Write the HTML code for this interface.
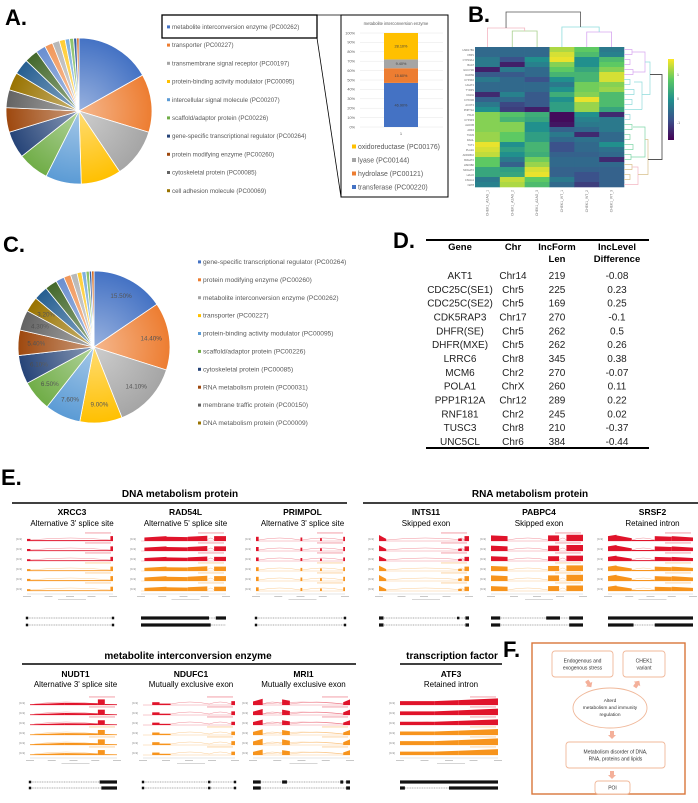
<!DOCTYPE html>
<html>
<head>
<meta charset="utf-8">
<style>
html,body{margin:0;padding:0;background:#fff;}
svg{display:block;font-family:"Liberation Sans","DejaVu Sans",sans-serif;}
</style>
</head>
<body>
<svg id="fig" width="698" height="803" viewBox="0 0 698 803" xmlns="http://www.w3.org/2000/svg">
<defs>
<radialGradient id="shine" cx="0.5" cy="0.5" r="0.5">
<stop offset="0" stop-color="#fff" stop-opacity="0.45"/>
<stop offset="1" stop-color="#fff" stop-opacity="0"/>
</radialGradient>
<linearGradient id="viridisBar" x1="0" y1="1" x2="0" y2="0">
<stop offset="0" stop-color="#440154"/><stop offset="0.25" stop-color="#3b528b"/>
<stop offset="0.5" stop-color="#21908d"/><stop offset="0.75" stop-color="#5dc963"/>
<stop offset="1" stop-color="#fde725"/>
</linearGradient>
</defs>
</svg>
<script>
// ---------- DATA ----------
const pieAValues=[17,13,11,9,8,7,6,5.5,4,4,3.5,3,2.2,1.8,1.6,1.3,1.0,0.9,0.7,0.5];
const pieColors=['#4472C4','#ED7D31','#A5A5A5','#FFC000','#5B9BD5','#70AD47','#264478','#9E480E','#636363','#997300','#255E91','#43682B','#698ED0','#F1975A','#B7B7B7','#FFCD33','#7CAFDD','#8CC168','#335AA1','#D26012'];
const legendA=['metabolite interconversion enzyme (PC00262)','transporter (PC00227)','transmembrane signal receptor (PC00197)','protein-binding activity modulator (PC00095)','intercellular signal molecule (PC00207)','scaffold/adaptor protein (PC00226)','gene-specific transcriptional regulator (PC00264)','protein modifying enzyme (PC00260)','cytoskeletal protein (PC00085)','cell adhesion molecule (PC00069)'];
const insetCats=['transferase (PC00220)','hydrolase (PC00121)','lyase (PC00144)','oxidoreductase (PC00176)'];
const insetVals=[46.9,15.6,9.4,28.1];
const insetColors=['#4472C4','#ED7D31','#A5A5A5','#FFC000'];
const insetTicks=[0,10,20,30,40,50,60,70,80,90,100];
const pieCValues=[15.5,14.4,14.1,9.0,7.6,6.5,6.1,5.4,4.3,3.2,3.0,2.6,1.8,1.5,1.4,1.0,0.9,0.7,0.5,0.5];
const legendC=['gene-specific transcriptional regulator (PC00264)','protein modifying enzyme (PC00260)','metabolite interconversion enzyme (PC00262)','transporter (PC00227)','protein-binding activity modulator (PC00095)','scaffold/adaptor protein (PC00226)','cytoskeletal protein (PC00085)','RNA metabolism protein (PC00031)','membrane traffic protein (PC00150)','DNA metabolism protein (PC00009)'];
const heatGenes=['HSD17B1','FBP1','CYP19A1','BAAT','GUCY2D','DHRS9','CYP4F2','HGAT4','TYRP1','DGKH','CYP2A5','ACOT4','PNPT1A','PKLR','CYP4F3','ALDOB','ARF4','TGM3','DAGL','TUT1','PLA2A','AKR1B10','B3GAT2','HSD3B2','MOGAT2','HAAO','CSGG1','NAT8'];
const heatSamples=['CHEK1_A2AG_1','CHEK1_A2AG_2','CHEK1_A2AG_3','CHEK1_WT_1','CHEK1_WT_2','CHEK1_WT_3'];
const heatValues=[
[-0.5,-0.5,-0.5,1.2,0.8,-0.3],[-0.5,-0.5,-0.5,1.4,0.6,-0.2],[-0.3,-0.8,0.0,1.5,0.0,0.6],[-0.3,-1.3,-0.2,1.0,0.0,0.8],
[-1.3,-0.3,-0.5,0.8,0.3,1.0],[-0.7,-0.7,-0.5,0.5,0.5,1.4],[-0.3,-0.5,-0.8,0.0,0.5,1.4],[-0.5,-0.5,-0.5,-0.3,0.9,1.0],
[-0.5,-0.5,-0.5,0.0,0.9,1.1],[-1.2,-0.2,-0.7,0.4,1.0,0.6],[-0.6,-0.5,-0.7,0.0,1.5,0.6],[-0.3,-0.9,-0.7,0.2,1.1,0.6],
[0.0,-1.0,-1.3,0.2,1.1,0.3],[1.0,0.7,0.4,-1.5,0.0,-1.2],[1.0,0.5,0.3,-1.5,-0.2,-0.3],[1.0,1.0,0.0,-1.4,-0.3,-0.3],
[1.0,1.0,0.0,-0.6,-0.5,-0.3],[1.1,0.8,0.2,-0.3,-1.2,-0.5],[1.1,0.8,0.2,-0.5,-0.4,-0.5],[1.5,0.0,0.5,-0.8,-0.5,0.0],
[1.4,0.2,0.5,-0.8,-0.5,-0.4],[1.3,0.0,0.4,-0.6,-0.6,-0.5],[0.8,-0.3,0.9,-0.5,-0.5,-1.2],[0.8,-0.6,1.1,-0.5,-0.5,-0.5],
[0.3,0.2,1.4,-0.6,-0.6,-0.6],[0.3,0.3,1.5,-0.6,-0.8,-0.6],[-0.3,1.3,0.8,-0.3,-0.8,-0.6],[-0.2,1.2,0.6,-0.5,-1.0,-0.6]];
const tableGenes=['AKT1','CDC25C(SE1)','CDC25C(SE2)','CDK5RAP3','DHFR(SE)','DHFR(MXE)','LRRC6','MCM6','POLA1','PPP1R12A','RNF181','TUSC3','UNC5CL'];
const tableChr=['Chr14','Chr5','Chr5','Chr17','Chr5','Chr5','Chr8','Chr2','ChrX','Chr12','Chr2','Chr8','Chr6'];
const tableLen=['219','225','169','270','262','262','345','270','260','289','245','210','384'];
const tableDiff=['-0.08','0.23','0.25','-0.1','0.5','0.26','0.38','-0.07','0.11','0.22','0.02','-0.37','-0.44'];

// ---------- HELPERS ----------
const NS='http://www.w3.org/2000/svg';
const svg=document.getElementById('fig');
function mk(tag,attrs,parent){const e=document.createElementNS(NS,tag);for(const k in attrs)e.setAttribute(k,attrs[k]);(parent||svg).appendChild(e);return e;}
function txt(x,y,s,attrs,parent){const e=mk('text',Object.assign({x:x,y:y},attrs),parent);e.textContent=s;return e;}
function grp(name){const g=mk('g',{});return g;}
function label(x,y,s,name){const t=txt(x,y,s,{'font-size':22,'font-weight':'bold',fill:'#000'});return t;}

function drawPie(g,cx,cy,r,vals,cols,labels){
  const tot=vals.reduce((a,b)=>a+b,0);let a=-Math.PI/2;
  vals.forEach((v,i)=>{
    const da=v/tot*2*Math.PI;const a2=a+da;
    const p=mk('path',{d:`M${cx},${cy}L${cx+r*Math.cos(a)},${cy+r*Math.sin(a)}A${r},${r} 0 ${da>Math.PI?1:0} 1 ${cx+r*Math.cos(a2)},${cy+r*Math.sin(a2)}Z`,fill:cols[i%cols.length],stroke:'#fff','stroke-width':0.8},g);
    
    
    if(labels&&i<10){const m=a+da/2;const t=txt(cx+r*0.76*Math.cos(m),cy+r*0.76*Math.sin(m)+2,v.toFixed(2)+'%',{'font-size':6.3,fill:'#404040','text-anchor':'middle'},g);
      
      }
    a=a2;
  });
  mk('circle',{cx:cx,cy:cy,r:r,fill:'url(#shine)'},g);
}
function legend(g,x,y0,step,items,cols,fs){
  items.forEach((s,i)=>{
    const m=mk('rect',{x:x,y:y0+step*i-3.6,width:3,height:3,fill:cols[i]},g);
    
    
    const t=txt(x+5,y0+step*i,s,{'font-size':fs,fill:'#595959'},g);
    
    
  });
}

// ---------- PANEL A ----------
label(5,25,'A.','panel-a-label');
const gA=grp('panel-a-pie');
drawPie(gA,79,111,73,pieAValues,pieColors,false);
const gAL=grp('panel-a-legend');
legend(gAL,167,29,18.2,legendA,pieColors,6.2);
const hb=mk('rect',{x:162,y:15,width:155,height:23,fill:'none',stroke:'#000','stroke-width':1.3},gAL);


mk('line',{x1:317,y1:15,x2:341,y2:15,stroke:'#000','stroke-width':0.8},gAL);
mk('line',{x1:317,y1:38,x2:341,y2:197,stroke:'#000','stroke-width':0.8},gAL);
// inset
const gI=grp('inset-bar-chart');
mk('rect',{x:341,y:15,width:107,height:182,fill:'#fff',stroke:'#000','stroke-width':1},gI);
txt(396,25,'metabolite interconversion enzyme',{'font-size':4.2,fill:'#595959','text-anchor':'middle'},gI);
const iy=v=>127-v*0.94;
insetTicks.forEach(t=>{
  mk('line',{x1:360,x2:443,y1:iy(t),y2:iy(t),stroke:'#e6e6e6','stroke-width':0.5},gI);
  const tl=txt(355,iy(t)+1.3,t+'%',{'font-size':3.8,fill:'#595959','text-anchor':'end'},gI);
  
  
});
let acc=0;
insetVals.forEach((v,i)=>{
  const b=mk('rect',{x:384,y:iy(acc+v),width:34,height:v*0.94,fill:insetColors[i]},gI);
  
  
  txt(401,iy(acc+v/2)+1.3,v.toFixed(2)+'%',{'font-size':3.8,fill:'#404040','text-anchor':'middle'},gI);
  acc+=v;
});
txt(401,135,'1',{'font-size':4,fill:'#595959','text-anchor':'middle'},gI);
[3,2,1,0].forEach((ci,k)=>{
  const y=149+k*13.5;
  mk('rect',{x:352,y:y-4.5,width:4,height:4,fill:insetColors[ci]},gI);
  const t=txt(358,y,insetCats[ci],{'font-size':6.9,fill:'#595959'},gI);
  
  
});

// ---------- PANEL B ----------
label(468,22,'B.','panel-b-label');
const gB=grp('heatmap');
function viridis(v){
  const st=[[68,1,84],[59,82,139],[33,144,141],[93,201,99],[253,231,37]];
  let t=(v+1.6)/3.2;t=Math.max(0,Math.min(1,t));const s=t*4;const i=Math.min(3,Math.floor(s));const f=s-i;
  const c=st[i].map((c0,k)=>Math.round(c0+(st[i+1][k]-c0)*f));return `rgb(${c[0]},${c[1]},${c[2]})`;
}
const hx0=475,hx1=624,hy0=47,hy1=187;
const cw=(hx1-hx0)/heatSamples.length,rh=(hy1-hy0)/heatGenes.length;
heatValues.forEach((row,r)=>{row.forEach((v,c)=>{
  const cell=mk('rect',{x:hx0+c*cw,y:hy0+r*rh,width:cw+0.3,height:rh+0.3,fill:viridis(v)},gB);
  
  
});});
heatGenes.forEach((g,r)=>{txt(hx0-1,hy0+r*rh+rh*0.75,g,{'font-size':2.6,fill:'#666','text-anchor':'end'},gB);});
heatSamples.forEach((s,c)=>{const x=hx0+c*cw+cw/2+1;txt(x,190,s,{'font-size':3.4,fill:'#777','text-anchor':'end',transform:`rotate(-90 ${x} 190)`},gB);});
const gD=grp('dendrogram');
const cx=c=>hx0+c*cw+cw/2;
function br(x1,x2,y,yl,yr,col){mk('path',{d:`M${x1},${yl}V${y}H${x2}V${yr}`,fill:'none',stroke:col,'stroke-width':0.8},gD);}
br(cx(1),cx(2),31,hy0,hy0,'#a8d08d');
br(cx(0),(cx(1)+cx(2))/2,28,hy0,31,'#f4b6c2');
br(cx(4),cx(5),32,hy0,hy0,'#d7a6f0');
br(cx(3),(cx(4)+cx(5))/2,27,hy0,32,'#8fdcdc');
br((cx(0)+cx(1.5))/2,(cx(3)+cx(4.5))/2,12,28,27,'#555');
function rb(y1,y2,x,col,xl,xr){mk('path',{d:`M${xl||hx1},${y1}H${x}V${y2}H${xr||hx1}`,fill:'none',stroke:col,'stroke-width':0.7},gD);}
const ry=r=>hy0+r*rh+rh/2;
[[0,1,632,'#d7a6f0'],[2,3,630,'#d7a6f0'],[4,5,633,'#d7a6f0'],[6,7,630,'#8fdcdc'],[8,9,634,'#8fdcdc'],[10,11,632,'#8fdcdc'],[13,14,630,'#8fdcdc'],[15,16,632,'#7fd6a8'],[17,18,630,'#7fd6a8'],[19,20,633,'#7fd6a8'],[21,22,631,'#7fd6a8'],[23,24,632,'#d8c08a'],[25,26,630,'#d8c08a']].forEach(b=>rb(ry(b[0]),ry(b[1]),b[2],b[3]));
mk('path',{d:`M${hx1},${ry(12)}H642`,stroke:'#8fdcdc','stroke-width':0.7,fill:'none'},gD);
mk('path',{d:`M632,${ry(0.5)}H645V${ry(4.5)}H633`,stroke:'#d7a6f0','stroke-width':0.7,fill:'none'},gD);
mk('path',{d:`M634,${ry(6.5)}H642V${ry(12)}`,stroke:'#8fdcdc','stroke-width':0.7,fill:'none'},gD);
mk('path',{d:`M645,${ry(2.5)}H650V${ry(9)}H642`,stroke:'#8fdcdc','stroke-width':0.7,fill:'none'},gD);
mk('path',{d:`M633,${ry(15.5)}H645V${ry(21.5)}H631`,stroke:'#7fd6a8','stroke-width':0.7,fill:'none'},gD);
mk('path',{d:`M632,${ry(23.5)}H638V${ry(27)}H${hx1}`,stroke:'#f4b6c2','stroke-width':0.7,fill:'none'},gD);
mk('path',{d:`M645,${ry(18)}H648V${ry(25)}H638`,stroke:'#d8c08a','stroke-width':0.7,fill:'none'},gD);
mk('path',{d:`M650,${ry(5)}H662V${ry(22)}H648`,stroke:'#555','stroke-width':0.9,fill:'none'},gD);
const gCB=grp('colorbar');
mk('rect',{x:668,y:59,width:6,height:81,fill:'url(#viridisBar)'},gCB);
[['1',76],['0',100],['-1',124]].forEach(t=>txt(677,t[1],t[0],{'font-size':3.5,fill:'#666'},gCB));

// ---------- PANEL C ----------
label(3,252,'C.','panel-c-label');
const gC=grp('panel-c-pie');
drawPie(gC,94,347,76,pieCValues,pieColors,true);
const gCL=grp('panel-c-legend');
legend(gCL,198,264,17.9,legendC,pieColors,6.6);

// ---------- PANEL D ----------
label(393,248,'D.','panel-d-label');
const gT=grp('splicing-table');
mk('line',{x1:426,x2:649,y1:240,y2:240,stroke:'#000','stroke-width':2},gT);
mk('line',{x1:426,x2:649,y1:448,y2:448,stroke:'#000','stroke-width':2},gT);
const colX=[460,513,557,617];
[['Gene',''],['Chr',''],['IncForm','Len'],['IncLevel','Difference']].forEach((h,i)=>{
  const t=txt(colX[i],250,h[0],{'font-size':9.5,'font-weight':'bold','text-anchor':'middle'},gT);
  
  
  if(h[1])txt(colX[i],262,h[1],{'font-size':9.5,'font-weight':'bold','text-anchor':'middle'},gT);
});
tableGenes.forEach((g,r)=>{
  const y=279+r*13.83;
  [g,tableChr[r],tableLen[r],tableDiff[r]].forEach((v,i)=>{
    const t=txt(colX[i],y,v,{'font-size':10,'text-anchor':'middle',fill:'#222'},gT);
    
    
  });
});

// ---------- PANEL E ----------
label(1,485,'E.','panel-e-label');
const headers=[['DNA metabolism protein',180,497,12,347,503],['RNA metabolism protein',530,497,363,698,503],['metabolite interconversion enzyme',188,659,22,356,664],['transcription factor',452,659,400,502,664]];
headers.forEach(h=>{
  const g=grp('group-header');
  txt(h[1],h[2],h[0],{'font-size':10,'font-weight':'bold','text-anchor':'middle'},g);
  mk('line',{x1:h[3],x2:h[4],y1:h[5],y2:h[5],stroke:'#000','stroke-width':1.5},g);
});
const ePanels=[
 {n:'XRCC3',s:"Alternative 3' splice site",x0:27,x1:113,row:0,prof:[[0,0.04,0.3,0.3],[0.04,0.97,0.12,0.12],[0.97,1,0.7,0.7]],arcs:[[0.04,0.97]],m1:{t:[],d:[0,1]},m2:{t:[],d:[0,1]}},
 {n:'RAD54L',s:"Alternative 5' splice site",x0:141,x1:226,row:0,prof:[[0.04,0.3,0.5,0.7],[0.3,0.55,0.6,0.55],[0.55,0.78,0.6,0.75],[0.86,1,0.7,0.7]],arcs:[[0.78,0.86]],m1:{t:[[0,0.8],[0.88,1]],d:[]},m2:{t:[[0,0.82]],d:[]}},
 {n:'PRIMPOL',s:"Alternative 3' splice site",x0:256,x1:345,row:0,prof:[[0,0.03,0.6,0.6],[0.5,0.52,0.5,0.5],[0.72,0.74,0.4,0.4],[0.98,1,0.6,0.6]],arcs:[[0.03,0.5],[0.52,0.98]],m1:{t:[],d:[0,1]},m2:{t:[],d:[0,1]}},
 {n:'INTS11',s:'Skipped exon',x0:379,x1:469,row:0,prof:[[0,0.08,0.85,0.3],[0.88,0.92,0.35,0.35],[0.95,1,0.7,0.7]],arcs:[[0.08,0.95],[0.88,0.95]],m1:{t:[[0,0.05],[0.96,1]],d:[0.88]},m2:{t:[[0,0.05],[0.96,1]],d:[]}},
 {n:'PABPC4',s:'Skipped exon',x0:491,x1:583,row:0,prof:[[0,0.18,0.8,0.7],[0.62,0.74,0.8,0.8],[0.82,1,0.9,0.9]],arcs:[[0.18,0.62],[0.74,0.82]],m1:{t:[[0,0.1],[0.6,0.75],[0.85,1]],d:[]},m2:{t:[[0,0.1],[0.85,1]],d:[]}},
 {n:'SRSF2',s:'Retained intron',x0:608,x1:693,row:0,prof:[[0,0.1,0.7,0.9],[0.1,0.28,0.8,0.4],[0.28,0.55,0.15,0.15],[0.55,0.75,0.7,0.6],[0.75,1,0.7,0.5]],arcs:[[0.28,0.55]],m1:{t:[[0,1]],d:[]},m2:{t:[[0,0.3],[0.55,1]],d:[]}},
 {n:'NUDT1',s:"Alternative 3' splice site",x0:30,x1:117,row:1,prof:[[0,0.4,0.1,0.3],[0.4,0.78,0.3,0.25],[0.78,0.86,0.8,0.8],[0.86,1,0.15,0.1]],arcs:[[0.05,0.78]],m1:{t:[[0.8,1]],d:[0]},m2:{t:[[0.82,1]],d:[0]}},
 {n:'NDUFC1',s:'Mutually exclusive exon',x0:143,x1:235,row:1,prof:[[0.1,0.18,0.4,0.4],[0.18,0.3,0.2,0.2],[0.96,1,0.55,0.55]],arcs:[[0.3,0.72],[0.72,0.96]],m1:{t:[],d:[0,0.72,1]},m2:{t:[],d:[0,0.72,1]}},
 {n:'MRI1',s:'Mutually exclusive exon',x0:253,x1:350,row:1,prof:[[0,0.1,0.5,0.9],[0.3,0.38,0.8,0.6],[0.93,1,0.4,0.8]],arcs:[[0.1,0.3],[0.38,0.93],[0.1,0.93]],m1:{t:[[0,0.08],[0.3,0.35],[0.9,0.93],[0.96,1]],d:[]},m2:{t:[[0,0.08],[0.96,1]],d:[]}},
 {n:'ATF3',s:'Retained intron',x0:400,x1:498,row:1,prof:[[0,0.35,0.55,0.55],[0.35,0.6,0.55,0.7],[0.6,1,0.7,0.95]],arcs:[[0.05,0.5]],m1:{t:[[0,1]],d:[]},m2:{t:[[0,0.05],[0.5,1]],d:[]}}
];
const trackMult=[1,0.95,0.85,0.9,1,0.88];
const rowGeo=[{name:515,sub:526,top:533,m:[618,625]},{name:677,sub:687,top:697,m:[782,788]}];
ePanels.forEach(p=>{
  const g=grp('sashimi-'+p.n.toLowerCase());
  const R=rowGeo[p.row];const w=p.x1-p.x0;const cxp=(p.x0+p.x1)/2+2;
  txt(cxp,R.name,p.n,{'font-size':8.5,'font-weight':'bold','text-anchor':'middle'},g);
  txt(cxp,R.sub,p.s,{'font-size':8,'text-anchor':'middle'},g);
  for(let i=0;i<6;i++){
    const col=i<3?'#e0142b':'#f7941d';const base=R.top+i*10+8;const h=7*trackMult[i];
    txt(p.x0-11,base-1,'[0-9]',{'font-size':3,fill:'#888'},g);
    mk('line',{x1:p.x0,x2:p.x1,y1:base,y2:base,stroke:col,'stroke-width':0.4,opacity:0.6},g);
    p.prof.forEach(s=>{
      const a=mk('polygon',{points:`${p.x0+s[0]*w},${base} ${p.x0+s[0]*w},${base-s[2]*h} ${p.x0+s[1]*w},${base-s[3]*h} ${p.x0+s[1]*w},${base}`,fill:col},g);
      
      
    });
    p.arcs.forEach(a=>{const xa=p.x0+a[0]*w,xb=p.x0+a[1]*w;
      mk('path',{d:`M${xa},${base-1}Q${(xa+xb)/2},${base-5} ${xb},${base-1}`,fill:'none',stroke:col,'stroke-width':0.4,opacity:0.6},g);});
    mk('rect',{x:p.x1-28,y:base-8.5,width:26,height:0.9,fill:col,opacity:0.45},g);
  }
  const ay=R.top+61;
  mk('line',{x1:p.x0,x2:p.x1,y1:ay,y2:ay,stroke:'#bbb','stroke-width':0.4},g);
  for(let k=0;k<5;k++){mk('rect',{x:p.x0+k*w/4-4,y:ay+2,width:8,height:0.8,fill:'#bbb'},g);}
  mk('rect',{x:cxp-14,y:ay+5,width:28,height:0.8,fill:'#ccc'},g);
  [p.m1,p.m2].forEach((m,j)=>{
    const y=R.m[j];
    mk('line',{x1:p.x0,x2:p.x1,y1:y,y2:y,stroke:'#555','stroke-width':0.6,'stroke-dasharray':'1,0.7'},g);
    m.t.forEach(s=>{const r=mk('rect',{x:p.x0+s[0]*w,y:y-1.6,width:(s[1]-s[0])*w,height:3.2,fill:'#111'},g);
      
      });
    m.d.forEach(d=>{mk('rect',{x:p.x0+d*w-1.2,y:y-1.3,width:2.4,height:2.6,fill:'#111'},g);});
  });
});

// ---------- PANEL F ----------
label(503,657,'F.','panel-f-label');
const gF=grp('panel-f-diagram');
mk('rect',{x:532,y:643,width:153,height:151,fill:'#fff',stroke:'#d9763a','stroke-width':1.4},gF);
function fbox(x,y,w,h,lines,name){
  const r=mk('rect',{x:x,y:y,width:w,height:h,rx:3,fill:'#fff',stroke:'#f0b89a','stroke-width':0.9},gF);
  
  
  lines.forEach((l,i)=>txt(x+w/2,y+h/2+2-(lines.length-1)*3.5+i*7,l,{'font-size':5,fill:'#333','text-anchor':'middle'},gF));
}
fbox(552,651,61,26,['Endogenous and','exogenous stress'],'stress-box');
fbox(623,651,42,26,['CHEK1','variant'],'variant-box');
const el=mk('ellipse',{cx:610,cy:708,rx:37,ry:20,fill:'#fff',stroke:'#f0b89a','stroke-width':0.9},gF);


['Alterd','metabolism and immunity','regulation'].forEach((l,i)=>txt(610,702+i*7,l,{'font-size':4.8,fill:'#333','text-anchor':'middle'},gF));
fbox(566,742,99,26,['Metabolism disorder of DNA,','RNA, proteins and lipids'],'disorder-box');
fbox(595,781,35,13,['POI'],'poi-box');
function arrow(x,y,rot){
  const a=mk('polygon',{points:`${x-2},${y-4} ${x+2},${y-4} ${x+2},${y} ${x+4},${y} ${x},${y+4} ${x-4},${y} ${x-2},${y}`,fill:'#f4b09a',transform:`rotate(${rot} ${x} ${y})`},gF);
  
  
}
arrow(589,684,-35);arrow(637,684,215);arrow(612,735,0);arrow(612,775,0);
</script>
</body>
</html>
